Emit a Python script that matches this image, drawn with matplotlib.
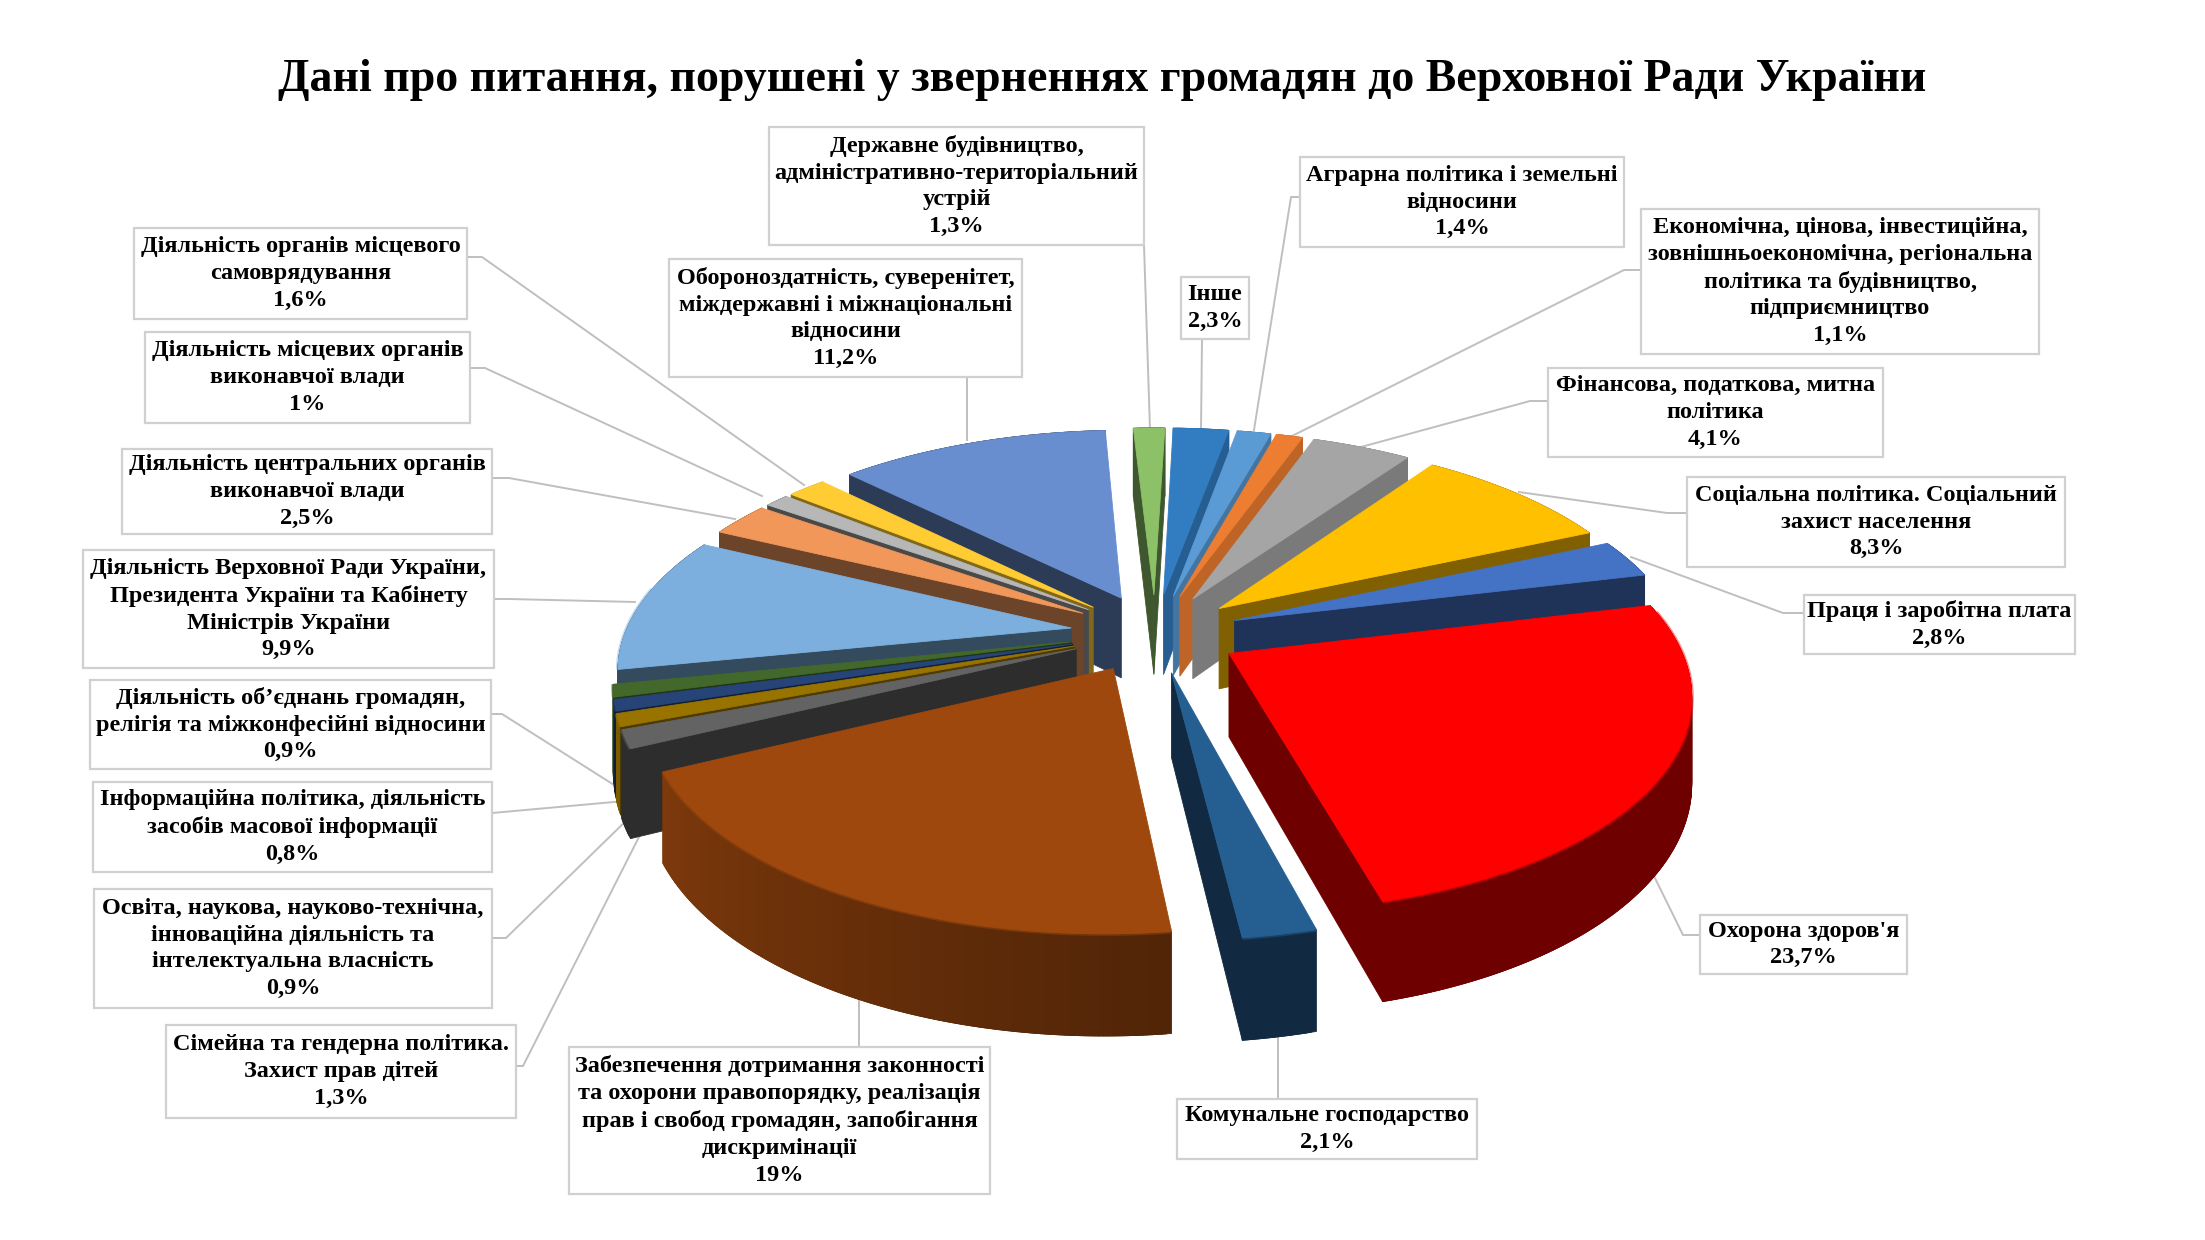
import numpy as np
import matplotlib
matplotlib.use("Agg")
import matplotlib.pyplot as plt
from matplotlib.patches import Polygon, Rectangle
from matplotlib.colors import to_rgb

# slices, clockwise from the top
labels = [
    "Державне будівництво,\nадміністративно-територіальний\nустрій",
    "Інше",
    "Аграрна політика і земельні\nвідносини",
    "Економічна, цінова, інвестиційна,\nзовнішньоекономічна, регіональна\nполітика та будівництво,\nпідприємництво",
    "Фінансова, податкова, митна\nполітика",
    "Соціальна політика. Соціальний\nзахист населення",
    "Праця і заробітна плата",
    "Охорона здоров'я",
    "Комунальне господарство",
    "Забезпечення дотримання законності\nта охорони правопорядку, реалізація\nправ і свобод громадян, запобігання\nдискримінації",
    "Сімейна та гендерна політика.\nЗахист прав дітей",
    "Освіта, наукова, науково-технічна,\nінноваційна діяльність та\nінтелектуальна власність",
    "Інформаційна політика, діяльність\nзасобів масової інформації",
    "Діяльність об’єднань громадян,\nрелігія та міжконфесійні відносини",
    "Діяльність Верховної Ради України,\nПрезидента України та Кабінету\nМіністрів України",
    "Діяльність центральних органів\nвиконавчої влади",
    "Діяльність місцевих органів\nвиконавчої влади",
    "Діяльність органів місцевого\nсамоврядування",
    "Обороноздатність, суверенітет,\nміждержавні і міжнаціональні\nвідносини",
]
values = [1.3, 2.3, 1.4, 1.1, 4.1, 8.3, 2.8, 23.7, 2.1, 19, 1.3, 0.9, 0.8, 0.9, 9.9, 2.5, 1, 1.6, 11.2]
value_text = ["1,3%", "2,3%", "1,4%", "1,1%", "4,1%", "8,3%", "2,8%", "23,7%", "2,1%", "19%",
              "1,3%", "0,9%", "0,8%", "0,9%", "9,9%", "2,5%", "1%", "1,6%", "11,2%"]

colors = ["#8CC168", "#327DC2", "#5B9BD5", "#ED7D31", "#A5A5A5", "#FFC000", "#4472C4", "#FF0000", "#255E91",
          "#9E480E", "#636363", "#997300", "#264478", "#43682B", "#7CAFDD", "#F1975A", "#B7B7B7", "#FFCD33", "#698ED0"]
side_shade = [.45, .75, .75, .8, .74, .5, .45, .43, .45, .5, .45, .5, .45, .5, .42, .45, .4, .5, .42]

# label boxes x0, y0, x1, y1 (pixels)
boxes = [(769, 127, 1144, 245), (1181, 277, 1249, 339), (1300, 157, 1624, 247), (1641, 209, 2039, 354),
         (1548, 368, 1883, 457), (1687, 477, 2065, 567), (1804, 595, 2075, 654), (1700, 915, 1907, 974),
         (1177, 1099, 1477, 1159), (569, 1047, 990, 1194), (166, 1025, 516, 1118), (94, 889, 492, 1008),
         (93, 782, 492, 872), (90, 680, 491, 769), (83, 550, 494, 668), (122, 449, 492, 534),
         (145, 332, 470, 423), (134, 228, 467, 319), (669, 259, 1022, 377)]

# leader lines (pixels)
leaders = [
    [(1144, 245), (1150, 430)],
    [(1202, 339), (1201, 430)],
    [(1300, 197), (1291, 197), (1254, 430)],
    [(1641, 270), (1624, 270), (1290, 437)],
    [(1548, 401), (1530, 401), (1361, 447)],
    [(1687, 513), (1667, 513), (1519, 492)],
    [(1804, 613), (1783, 613), (1631, 557)],
    [(1700, 935), (1683, 935), (1652, 872)],
    [(1278, 1099), (1278, 1035)],
    [(859, 1047), (859, 990)],
    [(516, 1066), (523, 1066), (640, 835)],
    [(492, 938), (506, 938), (632, 815)],
    [(492, 813), (625, 801)],
    [(491, 714), (502, 714), (622, 790)],
    [(494, 599), (509, 599), (635, 602)],
    [(492, 478), (509, 478), (735, 519)],
    [(470, 368), (485, 368), (762, 496)],
    [(467, 257), (482, 257), (804, 485)],
    [(967, 377), (967, 440)],
]

# pie geometry
cx, cy = 1155, 633
rx, ry = 446, 207
persp = 0.169
depth = 82
explode = 0.19
start = -3.2

fig = plt.figure(figsize=(22.05, 12.4), dpi=100)
ax = fig.add_axes([0, 0, 1, 1])
ax.set_xlim(0, 2205)
ax.set_ylim(1240, 0)
ax.axis("off")


def project(x, y, z=0.0):
    w = 1 + persp * y
    return cx + rx * x / w, cy - (ry * y - depth * z) / w


def shade(col, f):
    return tuple(c * f for c in to_rgb(col))


def face(pts, col, zo):
    ax.add_patch(Polygon(pts, closed=True, facecolor=col, edgecolor=col, linewidth=0.6, zorder=zo))


ax.text(1102, 80, "Дані про питання, порушені у зверненнях громадян до Верховної Ради України",
        family="Liberation Serif", weight="bold", fontsize=33, ha="center", va="center")

for pts in leaders:
    xs, ys = zip(*pts)
    ax.plot(xs, ys, color="#BFBFBF", lw=1.4, zorder=1)

for (x0, y0, x1, y1), lab, val in zip(boxes, labels, value_text):
    ax.add_patch(Rectangle((x0, y0), x1 - x0, y1 - y0, facecolor="white", edgecolor="#D0D0D0", lw=1.6, zorder=2))
    ax.text((x0 + x1) / 2, (y0 + y1) / 2, lab + "\n" + val, family="Liberation Serif", weight="bold",
            fontsize=17.5, ha="center", va="center", linespacing=1.36, zorder=3)

# angles come from the values
total = sum(values)
edges = start + np.cumsum([0] + values) / total * 360
mids = (edges[:-1] + edges[1:]) / 2

# back slices first
order = np.argsort(-np.cos(np.radians(mids)))
for rank, i in enumerate(order):
    zo = 10 + rank * 5
    a0, a1 = edges[i], edges[i + 1]
    m = np.radians(mids[i])
    ox, oy = explode * np.sin(m), explode * np.cos(m)
    th = np.radians(np.linspace(a0, a1, max(int(a1 - a0) * 2, 3) + 1))
    xs = ox + np.sin(th)
    ys = oy + np.cos(th)

    # outer wall in strips so it can get darker to the right, each one overlaps the next
    for k in range(len(th) - 1):
        deg = np.degrees(th[k])
        f = np.interp(deg, [170, 245], [side_shade[i], 0.8]) if side_shade[i] == .5 and deg > 170 else side_shade[i]
        n = min(k + 2, len(th) - 1)
        strip = [project(xs[k], ys[k]), project(xs[n], ys[n]), project(xs[n], ys[n], 1), project(xs[k], ys[k], 1)]
        face(strip, shade(colors[i], f), zo)

    # radial faces, only the ones turned to the viewer
    for x_out, y_out, sign in [(xs[0], ys[0], 1), (xs[-1], ys[-1], -1)]:
        quad = np.array([project(ox, oy), project(x_out, y_out), project(x_out, y_out, 1), project(ox, oy, 1)])
        area = 0.5 * np.sum(quad[:, 0] * np.roll(quad[:, 1], -1) - np.roll(quad[:, 0], -1) * quad[:, 1])
        if area * sign < 0:
            face(quad, shade(colors[i], side_shade[i]), zo + 1)

    # top
    top = [project(ox, oy)] + [project(a, b) for a, b in zip(xs, ys)]
    face(top, colors[i], zo + 2)

    # soft bevel along the front rim
    front = np.cos(th) < 0.2
    if front.sum() > 1:
        rim = np.array([project(a, b) for a, b in zip(xs[front], ys[front])])
        ax.plot(rim[:, 0], rim[:, 1], color=colors[i], lw=3, alpha=0.45, zorder=zo + 3, solid_capstyle="butt")

fig.savefig("out.png", dpi=100, facecolor="white")
